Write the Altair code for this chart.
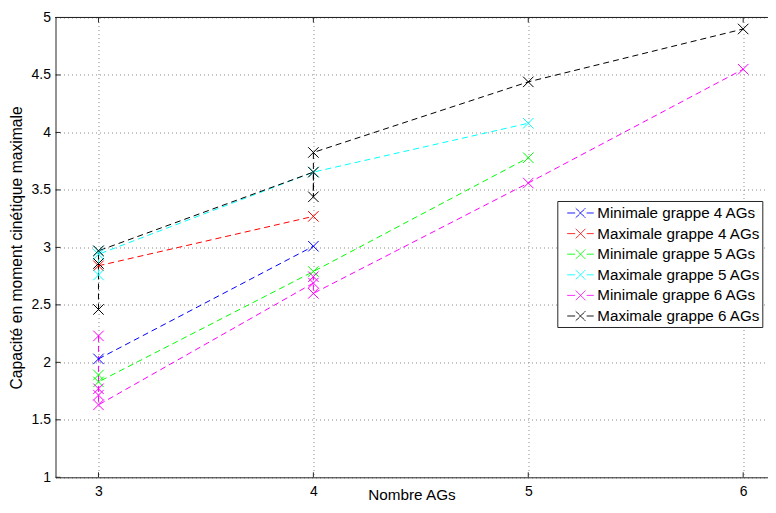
import altair as alt
import pandas as pd

# ---------------- data ----------------
series_names = [
    "Minimale grappe 4 AGs",
    "Maximale grappe 4 AGs",
    "Minimale grappe 5 AGs",
    "Maximale grappe 5 AGs",
    "Minimale grappe 6 AGs",
    "Maximale grappe 6 AGs",
]
series_colors = ["#0000ff", "#ff0000", "#00ff00", "#00ffff", "#ff00ff", "#000000"]

min4_x = [3, 4]
min4_y = [2.03, 3.01]
max4_x = [3, 4]
max4_y = [2.84, 3.27]
min5_x = [3, 3, 4, 5]
min5_y = [1.89, 1.83, 2.79, 3.78]
max5_x = [3, 3, 3, 4, 5]
max5_y = [2.76, 2.97, 2.94, 3.655, 4.08]
min6_x = [3, 3, 3, 3, 4, 4, 4, 5, 6]
min6_y = [2.23, 1.77, 1.715, 1.63, 2.69, 2.745, 2.60, 3.56, 4.55]
max6_x = [3, 3, 3, 4, 4, 4, 5, 6]
max6_y = [2.46, 2.86, 2.97, 3.655, 3.44, 3.826, 4.44, 4.90]

x_ticks = [3, 4, 5, 6]
y_ticks = [1, 1.5, 2, 2.5, 3, 3.5, 4, 4.5, 5]

x_title = "Nombre AGs"
y_title = "Capacité en moment cinétique maximale"

# ---------------- table ----------------
all_x = [min4_x, max4_x, min5_x, max5_x, min6_x, max6_x]
all_y = [min4_y, max4_y, min5_y, max5_y, min6_y, max6_y]
rows = []
for name, xs, ys in zip(series_names, all_x, all_y):
    for i, (xv, yv) in enumerate(zip(xs, ys)):
        rows.append({"series": name, "x": xv, "y": yv, "idx": i})
df = pd.DataFrame(rows)

xt_df = pd.DataFrame({"x": x_ticks})
yt_df = pd.DataFrame({"y": y_ticks})

# ---------------- layout ----------------
W = 712.0
H = 459.8
X_DOMAIN = [2.8, 2.8 + W / 214.9]
Y_DOMAIN = [1, 5]
FONT = "Liberation Sans"
AXIS_COLOR = "#262626"
GRID_COLOR = "#8a8a8a"

xscale = alt.Scale(domain=X_DOMAIN, nice=False, zero=False)
yscale = alt.Scale(domain=Y_DOMAIN, nice=False, zero=False)
cscale = alt.Scale(domain=series_names, range=series_colors)

X_MARK = "M-1,-1L1,1M-1,1L1,-1"
LEG_SYM = ("M-0.21,0L0.62,0M1.85,0L2.59,0"
           "M0.69,-0.51L1.71,0.51M0.69,0.51L1.71,-0.51")

x_enc = alt.X(
    "x:Q",
    scale=xscale,
    axis=alt.Axis(
        values=x_ticks,
        title=x_title,
        grid=True,
        ticks=False,
        tickSize=0,
        labelPadding=7,
        titlePadding=-10.5,
        titleFontSize=15.3,
        format="d",
    ),
)
y_enc = alt.Y(
    "y:Q",
    scale=yscale,
    axis=alt.Axis(
        values=y_ticks,
        title=y_title,
        grid=True,
        ticks=False,
        tickSize=0,
        labelPadding=5,
        titlePadding=7,
        format="~g",
    ),
)

lines = alt.Chart(df).mark_line(strokeWidth=1, strokeDash=[6, 4]).encode(
    x=x_enc,
    y=y_enc,
    color=alt.Color(
        "series:N",
        scale=cscale,
        legend=alt.Legend(
            title=None,
            orient="none",
            legendX=501.8,
            legendY=183.5,
            symbolType=LEG_SYM,
            symbolSize=353,
            symbolStrokeWidth=1,
            symbolDash=[1, 0],
            symbolFillColor="transparent",
            labelFont=FONT,
            labelFontSize=15.2,
            labelColor="#000000",
            labelLimit=400,
            labelOffset=18,
            padding=2,
            rowPadding=1.6,
            strokeColor="#262626",
            fillColor="#ffffff",
            cornerRadius=0,
        ),
    ),
    order="idx:Q",
)

points = alt.Chart(df).mark_point(
    shape=X_MARK, size=110, filled=False, strokeWidth=1, opacity=1
).encode(
    x=alt.X("x:Q", scale=xscale),
    y=alt.Y("y:Q", scale=yscale),
    color=alt.Color("series:N", scale=cscale, legend=None),
)

# inward ticks (MATLAB style) on bottom, top and left
bottom_ticks = alt.Chart(xt_df).mark_rule(color=AXIS_COLOR, strokeWidth=1).encode(
    x=alt.X("x:Q", scale=xscale), y=alt.value(H), y2=alt.value(H - 5)
)
top_ticks = alt.Chart(xt_df).mark_rule(color=AXIS_COLOR, strokeWidth=1).encode(
    x=alt.X("x:Q", scale=xscale), y=alt.value(0), y2=alt.value(5)
)
left_ticks = alt.Chart(yt_df).mark_rule(color=AXIS_COLOR, strokeWidth=1).encode(
    y=alt.Y("y:Q", scale=yscale), x=alt.value(0), x2=alt.value(5)
)
top_border = alt.Chart(xt_df).mark_rule(color=AXIS_COLOR, strokeWidth=1).encode(
    x=alt.value(0), x2=alt.value(W), y=alt.value(0)
)

chart = (
    alt.layer(lines, points, bottom_ticks, top_ticks, left_ticks, top_border)
    .properties(
        width=W,
        height=H,
        autosize=alt.AutoSizeParams(type="none"),
        padding={"left": 47.5, "top": 9.5, "right": 0, "bottom": 27.5},
        background="#ffffff",
    )
    .configure_view(stroke=None)
    .configure_axis(
        domainColor=AXIS_COLOR,
        domainWidth=1,
        gridColor=GRID_COLOR,
        gridDash=[1, 3],
        gridWidth=1,
        gridOpacity=1,
        labelFont=FONT,
        labelFontSize=14,
        labelColor="#000000",
        titleFont=FONT,
        titleFontSize=15.7,
        titleFontWeight="normal",
        titleColor="#000000",
    )
)

chart.save("out.html", embed_options={"renderer": "svg", "actions": False})
